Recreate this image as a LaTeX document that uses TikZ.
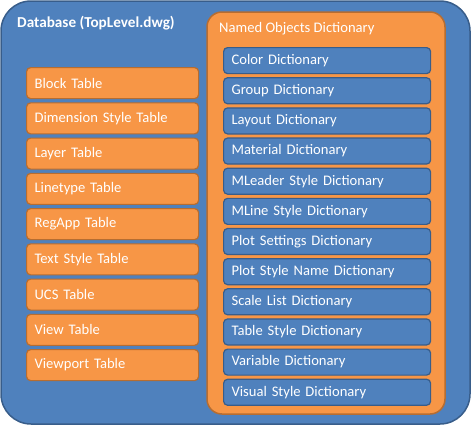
\documentclass[tikz,border=0pt]{standalone}
\usepackage{fontspec}
\setmainfont{Carlito}
\definecolor{bfill}{HTML}{4F81BD}
\definecolor{bline}{HTML}{385D8A}
\definecolor{ofill}{HTML}{F79646}
\definecolor{oline}{HTML}{B66D31}
\begin{document}
\begin{tikzpicture}[x=1pt,y=-1pt,
  outerbox/.style={fill=bfill,draw=bline,line width=1.5pt,rounded corners=30pt},
  nodbox/.style={fill=ofill,draw=oline,line width=1.5pt,rounded corners=15pt},
  dictbox/.style={fill=bfill,draw=bline,line width=1.2pt,rounded corners=4pt,
    minimum width=207pt,minimum height=26pt,inner xsep=8pt,anchor=north west,
    text=white,font=\fontsize{14.6}{16}\selectfont,align=left,text width=191pt},
  tabbox/.style={fill=ofill,draw=oline,line width=1.2pt,rounded corners=4pt,
    minimum width=172pt,minimum height=31pt,inner xsep=8pt,anchor=north west,
    text=white,font=\fontsize{14.6}{16}\selectfont,align=left,text width=156pt},
  lbl/.style={text=white,anchor=west,inner sep=0pt}]
\useasboundingbox (0,0) rectangle (472,426);
\draw[outerbox] (1,1) rectangle (470,424);
\node[lbl,font=\bfseries\fontsize{15.2}{17}\selectfont] (db) at (17,23) {Database (TopLevel.dwg)};
\draw[nodbox] (207,12) rectangle (445,414);
\node[lbl,font=\fontsize{14.6}{16}\selectfont] (nod) at (219,29) {Named Objects Dictionary};
\foreach \t [count=\i from 0] in {Block Table,Dimension Style Table,Layer Table,Linetype Table,RegApp Table,Text Style Table,UCS Table,View Table,Viewport Table}
  \node[tabbox] (t\i) at (26,{67+35.25*\i}) {\t};
\foreach \t [count=\i from 0] in {Color Dictionary,Group Dictionary,Layout Dictionary,Material Dictionary,MLeader Style Dictionary,MLine Style Dictionary,Plot Settings Dictionary,Plot Style Name Dictionary,Scale List Dictionary,Table Style Dictionary,Variable Dictionary,Visual Style Dictionary}
  \node[dictbox] (d\i) at (223,{47+30.15*\i}) {\t};
\end{tikzpicture}
\end{document}
